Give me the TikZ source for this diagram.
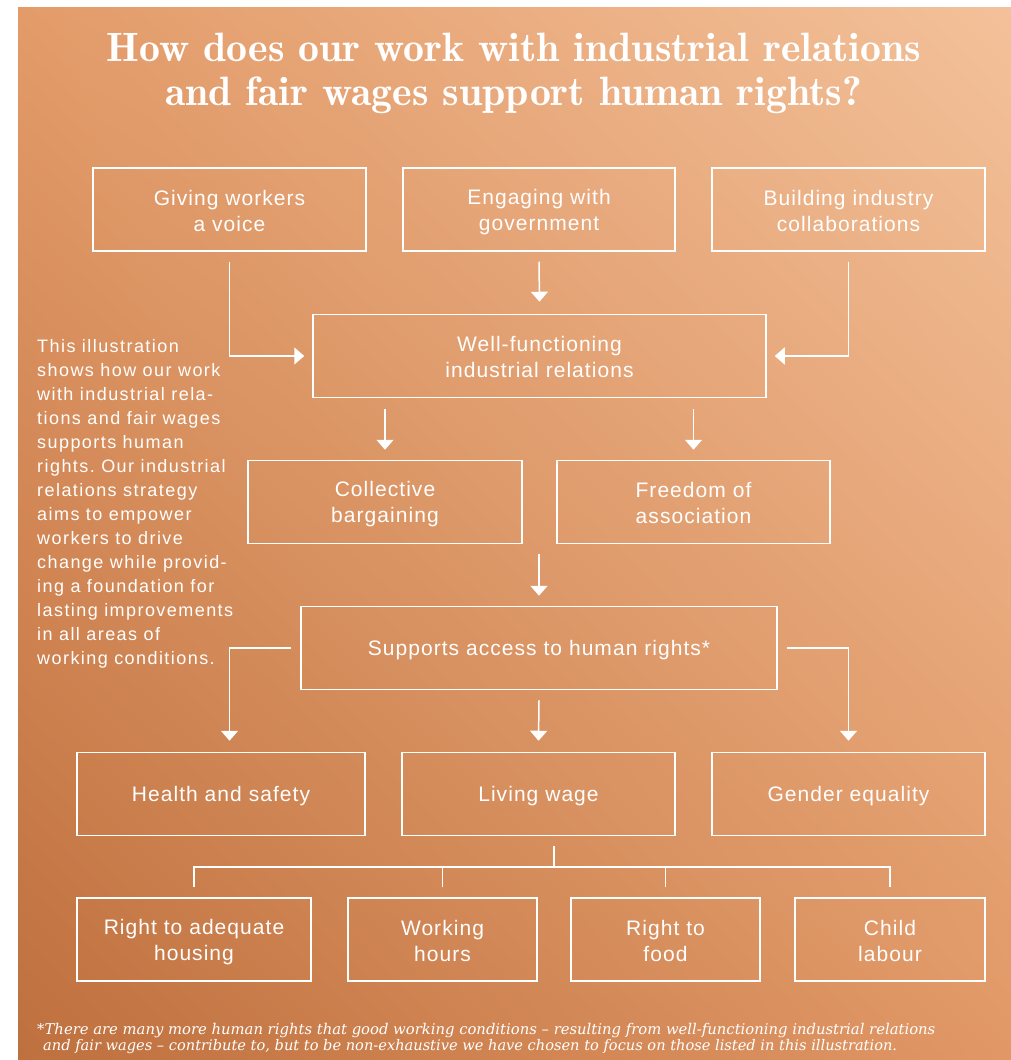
\documentclass[tikz,border=0pt]{standalone}
\usepackage{fontspec}
\usetikzlibrary{arrows.meta,calc,shadings}
\newfontfamily\titlefont[FakeStretch=1.02]{Latin Modern Roman Demi}
\newfontfamily\boxfont[LetterSpace=5]{Liberation Sans}
\newfontfamily\sidefont[LetterSpace=8]{Liberation Sans}
\newfontfamily\notefont{DejaVu Serif}
\newcommand\bxs{\rule[-3pt]{0pt}{23pt}}
\definecolor{bgTL}{RGB}{227,155,105}
\definecolor{bgTR}{RGB}{243,193,154}
\definecolor{bgBL}{RGB}{190,112,62}
\definecolor{bgBR}{RGB}{225,152,102}
\begin{document}
\begin{tikzpicture}[x=1pt,y=-1pt,
  box/.style={draw=white,line width=1.5pt,minimum height=83pt,inner sep=0pt,
    text=white,font=\boxfont\fontsize{21}{26}\selectfont,align=center},
  arr/.style={draw=white,line width=1.5pt,-{Triangle[width=17pt,length=10pt]}},
  ln/.style={draw=white,line width=1.5pt},
  ttl/.style={text=white,inner sep=0pt,anchor=base,font=\titlefont\fontsize{41}{46}\selectfont}]
\frenchspacing
\useasboundingbox (0,0) rectangle (1011,1060);
\fill[white] (0,0) rectangle (1011,1060);
\shade[upper left=bgTL,upper right=bgTR,lower left=bgBL,lower right=bgBR] (18,7) rectangle (1011,1060);
% title
\node[ttl] (title1) at (514,61) {How does our work with industrial relations};
\node[ttl] (title2) at (513.5,105) {and fair wages support human rights?};
% row 1
\node[box,minimum width=273pt] (A) at (229.5,209.5) {\bxs Giving workers\\\bxs a voice};
\node[box,minimum width=272pt] (B) at (539,209.5) {\bxs Engaging with\\\bxs government};
\node[box,minimum width=273pt] (C) at (848.5,209.5) {\bxs Building industry\\\bxs collaborations};
% row 2
\node[box,minimum width=453pt] (D) at (539.5,356) {\bxs Well-functioning\\\bxs industrial relations};
% row 3
\node[box,minimum width=274pt] (E) at (385,502) {\bxs Collective\\\bxs bargaining};
\node[box,minimum width=273pt] (F) at (693.5,502) {\bxs Freedom of\\\bxs association};
% row 4
\node[box,minimum width=476pt] (G) at (539,648) {\bxs Supports access to human rights*};
% row 5
\node[box,minimum width=288pt] (H) at (221,794) {\bxs Health and safety};
\node[box,minimum width=273pt] (I) at (538.5,794) {\bxs Living wage};
\node[box,minimum width=273pt] (J) at (848.5,794) {\bxs Gender equality};
% row 6
\node[box,minimum width=234pt] (K) at (194,939.5) {\bxs Right to adequate\\\bxs housing};
\node[box,minimum width=189pt] (L) at (442.5,939.5) {\bxs Working\\\bxs hours};
\node[box,minimum width=189pt] (M) at (665.5,939.5) {\bxs Right to\\\bxs food};
\node[box,minimum width=190pt] (N) at (890,939.5) {\bxs Child\\\bxs labour};
% connectors
\draw[arr] ([yshift=-10pt]A.south) |- ([xshift=-8pt]D.west);
\draw[arr] ([yshift=-10pt]B.south) -- ([yshift=12pt]D.north);
\draw[arr] ([yshift=-10pt]C.south) |- ([xshift=8pt]D.east);
\draw[arr] ([yshift=-11pt]D.south -| E.north) -- ([yshift=10pt]E.north);
\draw[arr] ([yshift=-11pt]D.south -| F.north) -- ([yshift=10pt]F.north);
\draw[arr] ([yshift=-10pt]E.south -| G.north) -- ([yshift=10pt]G.north);
\draw[arr] ([xshift=-9pt]G.west) -| ([yshift=11pt]H.north -| A.south);
\draw[arr] ([yshift=-10pt]G.south) -- ([yshift=11pt]I.north);
\draw[arr] ([xshift=9pt]G.east) -| ([yshift=11pt]J.north);
\coordinate (stem) at (554,846);
\coordinate (bar) at (554,867);
\draw[ln] (stem) -- (bar);
\draw[ln] ([yshift=10pt]K.north) |- (bar) -| ([yshift=10pt]N.north);
\draw[ln] ([yshift=10pt]L.north) -- (L.north |- bar);
\draw[ln] ([yshift=10pt]M.north) -- (M.north |- bar);
% side text
\node[anchor=north west,text=white,inner sep=0pt,align=left,
  font=\sidefont\fontsize{18}{24}\selectfont] (side) at (37,339)
  {This illustration\\shows how our work\\with industrial rela-\\tions and fair wages\\supports human\\rights. Our industrial\\relations strategy\\aims to empower\\workers to drive\\change while provid-\\ing a foundation for\\lasting improvements\\in all areas of\\working conditions.};
% footnote
\node[anchor=base west,text=white,inner sep=0pt,font=\notefont\itshape\fontsize{14.8}{16}\selectfont] (note1) at (37,1034)
  {*There are many more human rights that good working conditions – resulting from well-functioning industrial relations};
\node[anchor=base west,text=white,inner sep=0pt,font=\notefont\itshape\fontsize{14.6}{16}\selectfont] (note2) at (43,1050)
  {and fair wages – contribute to, but to be non-exhaustive we have chosen to focus on those listed in this illustration.};
\end{tikzpicture}
\end{document}
